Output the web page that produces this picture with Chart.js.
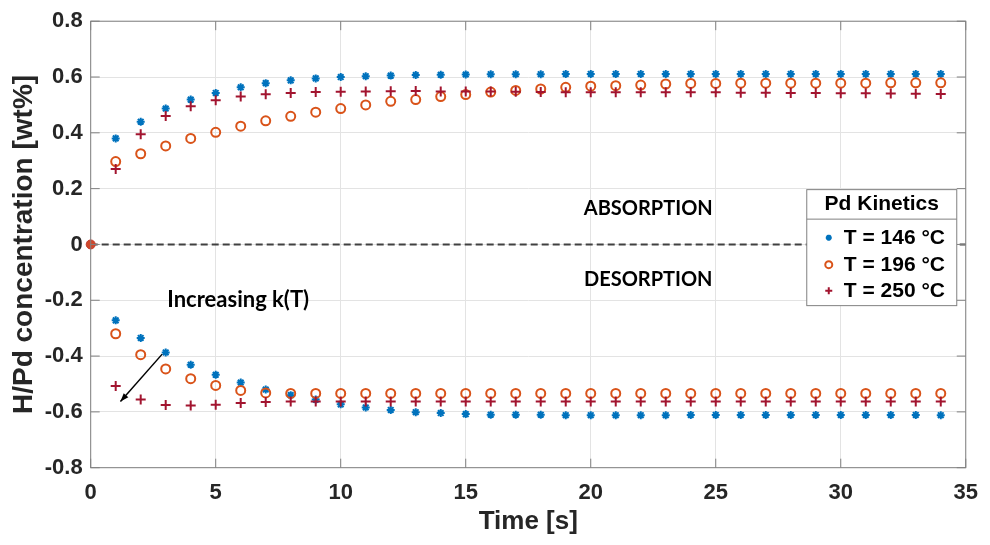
<!DOCTYPE html>
<html>
<head>
<meta charset="utf-8">
<script src="https://cdn.jsdelivr.net/npm/chart.js@4/dist/chart.umd.min.js"></script>
<style>
  html, body { margin: 0; padding: 0; background: #ffffff; }
  #wrap { width: 990px; height: 545px; position: relative; }
</style>
</head>
<body>
<div id="wrap"><canvas id="c" width="990" height="545"></canvas></div>
<script>
// ---------- DATA ----------
const time = [1,2,3,4,5,6,7,8,9,10,11,12,13,14,15,16,17,18,19,20,21,22,23,24,25,26,27,28,29,30,31,32,33,34];

const abs146 = [0.380,0.440,0.487,0.519,0.543,0.563,0.578,0.588,0.595,0.600,
                0.603,0.605,0.607,0.608,0.609,0.610,0.610,0.610,0.611,0.611,
                0.611,0.611,0.611,0.611,0.611,0.611,0.611,0.611,0.611,0.611,
                0.611,0.611,0.611,0.611];
const abs196 = [0.297,0.325,0.353,0.380,0.402,0.424,0.443,0.459,0.474,0.487,
                0.500,0.513,0.519,0.530,0.537,0.546,0.552,0.557,0.563,0.567,
                0.569,0.571,0.575,0.577,0.577,0.578,0.578,0.578,0.578,0.578,
                0.578,0.579,0.579,0.579];
const abs250 = [0.270,0.395,0.460,0.495,0.517,0.530,0.538,0.543,0.546,0.547,
                0.548,0.549,0.550,0.548,0.548,0.548,0.547,0.546,0.545,0.545,
                0.545,0.545,0.545,0.545,0.545,0.544,0.544,0.543,0.543,0.542,
                0.542,0.541,0.540,0.539];

const des146 = [-0.272,-0.335,-0.387,-0.431,-0.467,-0.495,-0.520,-0.540,-0.556,-0.573,
                -0.584,-0.593,-0.601,-0.604,-0.608,-0.610,-0.610,-0.610,-0.612,-0.612,
                -0.612,-0.612,-0.612,-0.611,-0.611,-0.611,-0.611,-0.611,-0.611,-0.611,
                -0.611,-0.611,-0.611,-0.612];
const des196 = [-0.320,-0.395,-0.446,-0.481,-0.505,-0.523,-0.532,-0.534,-0.534,-0.534,
                -0.534,-0.534,-0.534,-0.534,-0.534,-0.534,-0.534,-0.534,-0.534,-0.534,
                -0.534,-0.534,-0.534,-0.534,-0.534,-0.534,-0.534,-0.534,-0.534,-0.534,
                -0.534,-0.534,-0.534,-0.534];
const des250 = [-0.507,-0.556,-0.575,-0.577,-0.574,-0.568,-0.565,-0.563,-0.563,-0.563,
                -0.563,-0.563,-0.563,-0.563,-0.563,-0.563,-0.563,-0.563,-0.563,-0.563,
                -0.563,-0.563,-0.563,-0.563,-0.563,-0.563,-0.563,-0.563,-0.563,-0.563,
                -0.563,-0.563,-0.563,-0.563];

const seriesLabels = ['T = 146 °C', 'T = 196 °C', 'T = 250 °C'];
const legendTitle = 'Pd Kinetics';
const xTicks = [0,5,10,15,20,25,30,35];
const yTicks = [-0.8,-0.6,-0.4,-0.2,0,0.2,0.4,0.6,0.8];
const xTitle = 'Time [s]';
const yTitle = 'H/Pd concentration [wt%]';
const origin = [{x:0, y:0}];
const zeroLine = [{x:0, y:0}, {x:35, y:0}];
const notes = [
  {text:'ABSORPTION', x:22.3, y:0.127},
  {text:'DESORPTION', x:22.3, y:-0.127},
  {text:'Increasing k(T)', x:5.9, y:-0.2}
];
const arrowFrom = {x:2.86, y:-0.393};
const arrowTo = {x:1.19, y:-0.563};

// ---------- STYLE ----------
const C146 = '#0072BD', C196 = '#D95319', C250 = '#A2142F';
const AX = '#808080', TXT = '#262626';
const pts = (ys) => time.map((t,i) => ({x:t, y:ys[i]}));

function sty(color, style) {
  const base = {showLine:false, borderColor:color, pointBorderColor:color,
    pointStyle:style, pointBorderWidth:2, pointHoverRadius:0};
  if (style === 'star') return Object.assign(base, {pointRadius:4, backgroundColor:color, pointBackgroundColor:color});
  if (style === 'circle') return Object.assign(base, {pointRadius:4.5, backgroundColor:'rgba(0,0,0,0)', pointBackgroundColor:'rgba(0,0,0,0)'});
  return Object.assign(base, {pointRadius:5, backgroundColor:color, pointBackgroundColor:color});
}

const datasets = [
  Object.assign({type:'line', data:zeroLine, borderColor:'#404040', borderWidth:2, borderDash:[7,4], pointRadius:0, order:10}),
  Object.assign({data:pts(abs146), order:3}, sty(C146,'star')),
  Object.assign({data:pts(abs196), order:2}, sty(C196,'circle')),
  Object.assign({data:pts(abs250), order:1}, sty(C250,'cross')),
  Object.assign({data:pts(des146), order:3}, sty(C146,'star')),
  Object.assign({data:pts(des196), order:2}, sty(C196,'circle')),
  Object.assign({data:pts(des250), order:1}, sty(C250,'cross')),
  {data:origin, showLine:false, pointStyle:'circle', pointRadius:4.5, pointBackgroundColor:'#D0482A', pointBorderColor:'#C0392B', pointBorderWidth:1, clip:false, order:0},
  Object.assign({data:origin, clip:false, order:0}, sty('#8E1B3A','cross'), {pointRadius:3, pointBorderWidth:1.5})
];

// ---------- PLUGIN: box, inner ticks, notes, arrow, legend ----------
const decor = {
  id: 'decor',
  afterDatasetsDraw(chart) {
    const {ctx, chartArea: a, scales: {x, y}} = chart;
    ctx.save();
    ctx.strokeStyle = AX; ctx.lineWidth = 1;
    ctx.strokeRect(a.left, a.top, a.right - a.left, a.bottom - a.top);
    const TL = 9;
    ctx.beginPath();
    xTicks.forEach(v => { const px = x.getPixelForValue(v);
      ctx.moveTo(px, a.bottom); ctx.lineTo(px, a.bottom - TL);
      ctx.moveTo(px, a.top); ctx.lineTo(px, a.top + TL); });
    yTicks.forEach(v => { const py = y.getPixelForValue(v);
      ctx.moveTo(a.left, py); ctx.lineTo(a.left + TL, py);
      ctx.moveTo(a.right, py); ctx.lineTo(a.right - TL, py); });
    ctx.stroke();
    ctx.fillStyle = '#000';
    ctx.textAlign = 'center'; ctx.textBaseline = 'middle';
    notes.forEach((n, i) => {
      ctx.font = (i < 2 ? 'bold 20px Lato' : 'bold 22px Lato');
      ctx.fillText(n.text, x.getPixelForValue(n.x), y.getPixelForValue(n.y));
    });
    const x1 = x.getPixelForValue(arrowFrom.x), y1 = y.getPixelForValue(arrowFrom.y);
    const x2 = x.getPixelForValue(arrowTo.x), y2 = y.getPixelForValue(arrowTo.y);
    ctx.strokeStyle = '#000'; ctx.lineWidth = 1.5;
    ctx.beginPath(); ctx.moveTo(x1, y1); ctx.lineTo(x2, y2); ctx.stroke();
    const ang = Math.atan2(y2 - y1, x2 - x1), hl = 9;
    ctx.beginPath();
    ctx.moveTo(x2, y2);
    ctx.lineTo(x2 - hl*Math.cos(ang - 0.35), y2 - hl*Math.sin(ang - 0.35));
    ctx.lineTo(x2 - hl*Math.cos(ang + 0.35), y2 - hl*Math.sin(ang + 0.35));
    ctx.closePath(); ctx.fillStyle = '#000'; ctx.fill();

    // legend
    const L = a.right - 159, T = y.getPixelForValue(0.2) + 1, W = 150, H = 116;
    ctx.fillStyle = '#fff'; ctx.fillRect(L, T, W, H);
    ctx.strokeStyle = AX; ctx.lineWidth = 1;
    ctx.strokeRect(L, T, W, H);
    ctx.beginPath(); ctx.moveTo(L, T + 29.5); ctx.lineTo(L + W, T + 29.5); ctx.stroke();
    ctx.fillStyle = '#000'; ctx.font = 'bold 21px "Liberation Sans", Arial';
    ctx.textAlign = 'center'; ctx.textBaseline = 'middle';
    ctx.fillText(legendTitle, L + W/2, T + 15);
    ctx.textAlign = 'left';
    const rows = [T + 48, T + 75, T + 101];
    const styles = [['star', C146], ['circle', C196], ['cross', C250]];
    rows.forEach((ry, i) => {
      ctx.fillStyle = '#000';
      ctx.fillText(seriesLabels[i], L + 37, ry + 1);
      const [ps, col] = styles[i];
      ctx.strokeStyle = col; ctx.lineWidth = 2;
      ctx.fillStyle = (ps === 'circle') ? 'rgba(0,0,0,0)' : col;
      const mx = L + 22;
      if (Chart.helpers && Chart.helpers.drawPoint) {
        Chart.helpers.drawPoint(ctx, {pointStyle: ps, radius: ps === 'star' ? 3 : 3.5, borderWidth: 2, rotation: 0}, mx, ry);
      } else {
        ctx.beginPath();
        if (ps === 'circle') { ctx.arc(mx, ry, 3.5, 0, Math.PI*2); ctx.stroke(); }
        else if (ps === 'cross') { ctx.moveTo(mx-3.5, ry); ctx.lineTo(mx+3.5, ry); ctx.moveTo(mx, ry-3.5); ctx.lineTo(mx, ry+3.5); ctx.stroke(); }
        else { ctx.arc(mx, ry, 3, 0, Math.PI*2); ctx.fill(); }
      }
    });
    ctx.restore();
  }
};

new Chart(document.getElementById('c'), {
  type: 'scatter',
  data: { datasets },
  options: {
    responsive: false,
    animation: false,
    events: [],
    layout: { padding: { top: 12.7, right: 18, left: 0, bottom: 0 } },
    plugins: { legend: { display: false }, tooltip: { enabled: false } },
    scales: {
      x: {
        type: 'linear', min: 0, max: 35,
        afterBuildTicks: s => { s.ticks = xTicks.map(v => ({value: v})); },
        afterFit: s => { s.height = 77.3; },
        grid: { color: '#e3e3e3', lineWidth: 1, drawTicks: false },
        border: { display: false },
        ticks: { color: TXT, padding: 12, font: { family: '"Liberation Sans", Arial', size: 22, weight: 'bold' },
                 callback: v => String(v), maxRotation: 0 },
        title: { display: true, text: xTitle, color: TXT, padding: { top: 0, bottom: 8 },
                 font: { family: '"Liberation Sans", Arial', size: 26, weight: 'bold' } }
      },
      y: {
        type: 'linear', min: -0.8, max: 0.8,
        afterBuildTicks: s => { s.ticks = yTicks.map(v => ({value: v})); },
        afterFit: s => { s.width = 90.7; },
        grid: { color: '#e3e3e3', lineWidth: 1, drawTicks: false },
        border: { display: false },
        ticks: { color: TXT, padding: 8, font: { family: '"Liberation Sans", Arial', size: 22, weight: 'bold' },
                 callback: v => (v === 0 ? '0' : v.toFixed(1)) },
        title: { display: true, text: yTitle, color: TXT, padding: { top: 7, bottom: 0 },
                 font: { family: '"Liberation Sans", Arial', size: 28, weight: 'bold' } }
      }
    }
  },
  plugins: [decor]
});
</script>
</body>
</html>
